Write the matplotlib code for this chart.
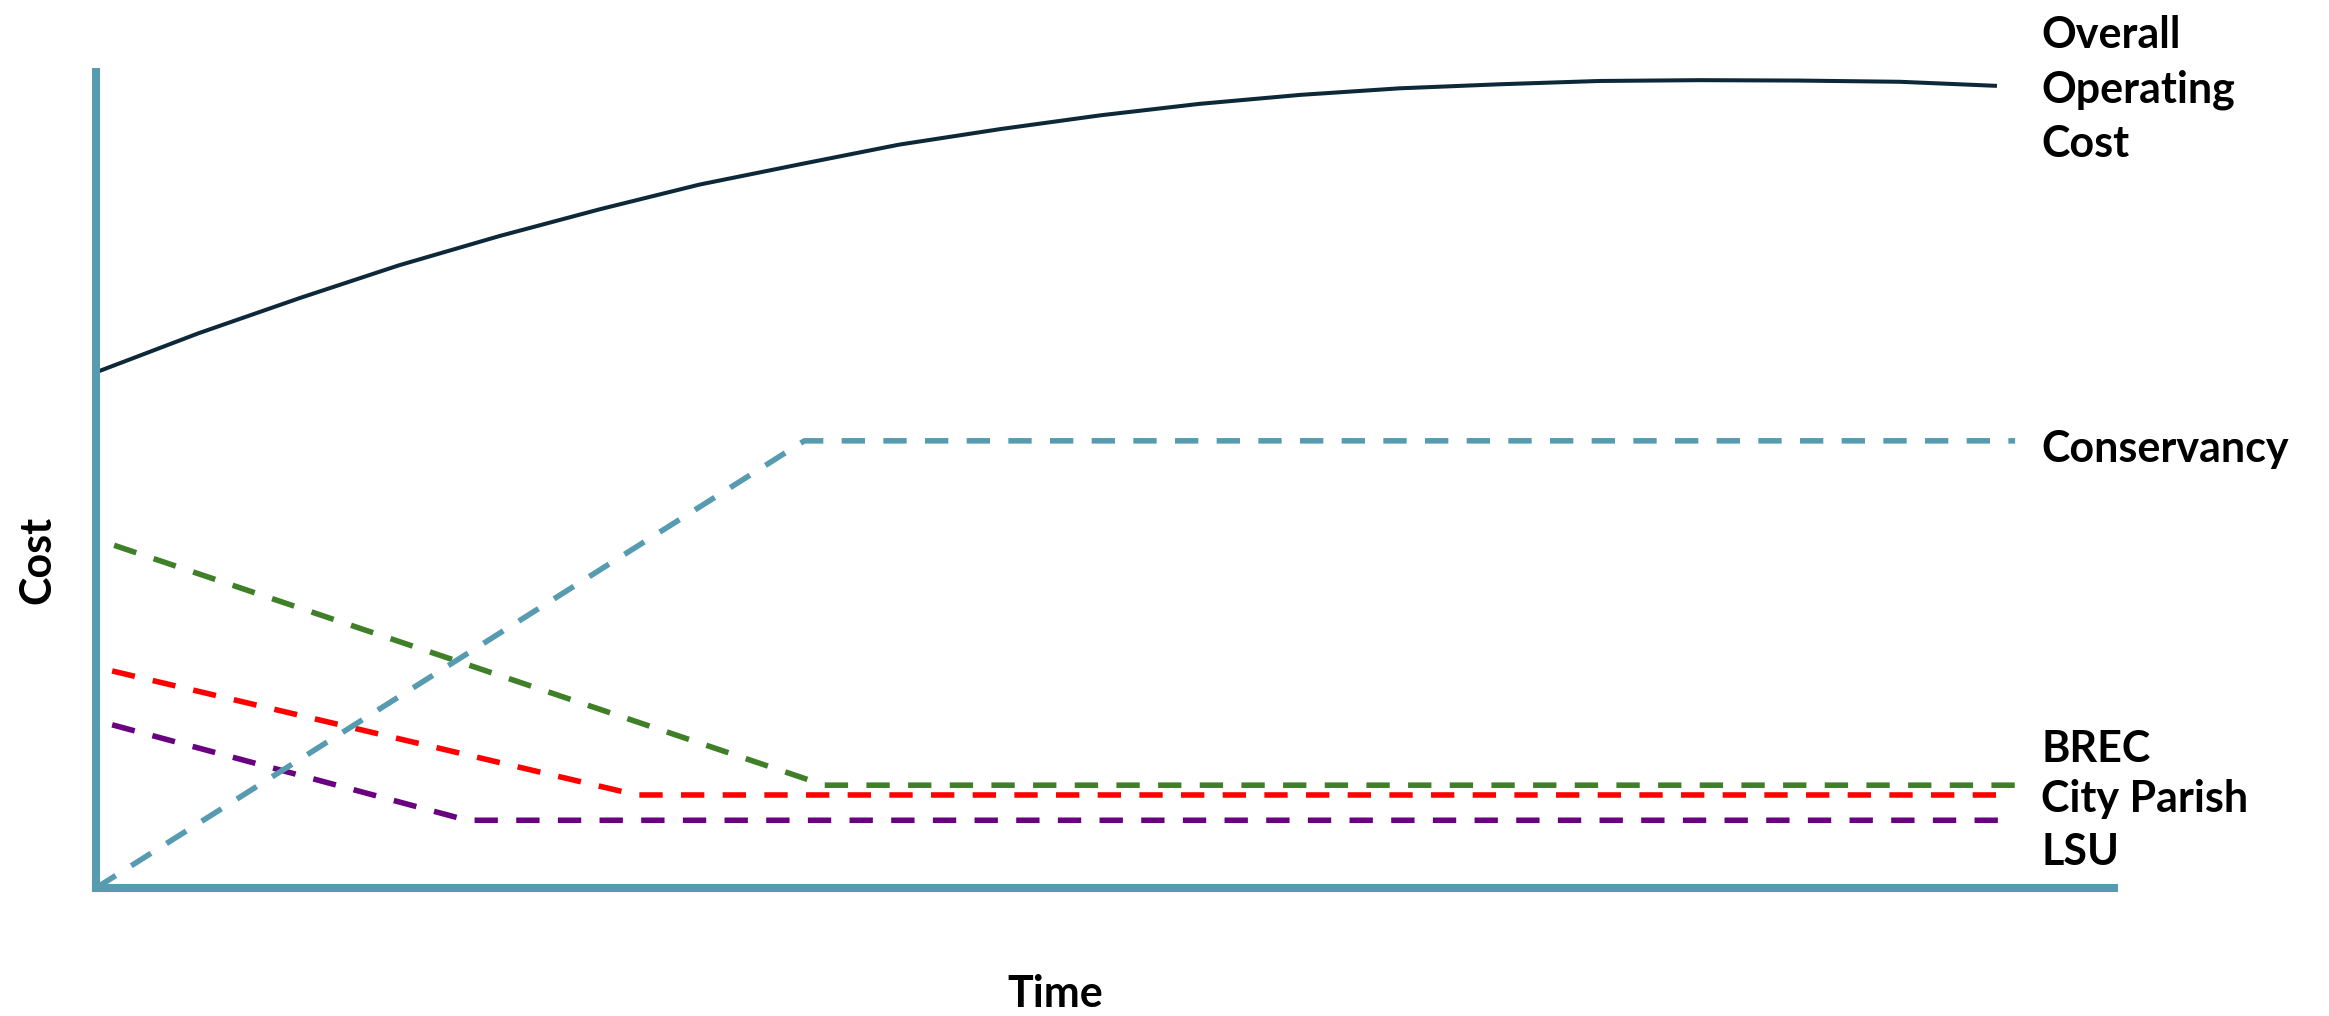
import matplotlib
matplotlib.use("Agg")
import matplotlib.pyplot as plt

# ---- data (Time 0-100, Cost 0-100, arbitrary units) ----
overall_x = [0, 5.1, 10.1, 15.0, 20.0, 25.0, 29.9, 34.9, 39.8, 44.8, 49.8, 54.7, 59.7, 64.6, 69.6, 74.5, 79.5, 84.4, 89.4, 94.2]
overall_y = [63.2, 68.0, 72.3, 76.3, 79.9, 83.2, 86.2, 88.7, 91.1, 93.0, 94.7, 96.1, 97.2, 98.0, 98.5, 98.9, 99.0, 98.95, 98.8, 98.3]

conservancy_x = [0, 35.1, 95.1]
conservancy_y = [0, 54.8, 54.8]

brec_x = [0.9, 36.1, 95.2]
brec_y = [42.0, 12.6, 12.6]

cityparish_x = [0.8, 26.8, 95.0]
cityparish_y = [26.6, 11.4, 11.4]

lsu_x = [0.8, 18.4, 95.1]
lsu_y = [20.0, 8.3, 8.3]

series_labels = ["Overall\nOperating\nCost", "Conservancy", "BREC", "City Parish", "LSU"]
x_label = "Time"
y_label = "Cost"

# ---- figure ----
W, H, DPI = 2329, 1016, 100
fig = plt.figure(figsize=(W / DPI, H / DPI), dpi=DPI)
left_px, right_px, top_px, bottom_px = 96, 2114, 72, 888
ax = fig.add_axes([left_px / W, (H - bottom_px) / H,
                   (right_px - left_px) / W, (bottom_px - top_px) / H])
ax.set_xlim(0, 100)
ax.set_ylim(0, 100)

teal = "#579BB1"
green = "#3F7F27"
red = "#FF0000"
purple = "#680080"
navy = "#0D2838"

for s in ["top", "right"]:
    ax.spines[s].set_visible(False)
for s in ["left", "bottom"]:
    ax.spines[s].set_color(teal)
    ax.spines[s].set_linewidth(5.8)
    ax.spines[s].set_capstyle("projecting")
ax.set_xticks([])
ax.set_yticks([])

dash_lw = 4.0
dash = (4.2, 3.3)

ax.plot(overall_x, overall_y, color=navy, lw=2.9, solid_capstyle="butt",
        solid_joinstyle="round", clip_on=False)
ax.plot(conservancy_x, conservancy_y, color=teal, lw=dash_lw, dashes=dash, clip_on=False, zorder=3)
ax.plot(brec_x, brec_y, color=green, lw=dash_lw, dashes=dash, clip_on=False)
ax.plot(cityparish_x, cityparish_y, color=red, lw=dash_lw, dashes=dash, clip_on=False)
ax.plot(lsu_x, lsu_y, color=purple, lw=dash_lw, dashes=dash, clip_on=False)

font = dict(family=["Lato", "DejaVu Sans"], fontweight="bold", fontsize=31, color="black")

label_x = 96.4
ax.text(label_x, 107.0, series_labels[0], va="top", ha="left", linespacing=1.44, clip_on=False, **font)
ax.text(label_x, 52.2, series_labels[1], va="baseline", ha="left", clip_on=False, **font)
ax.text(label_x, 15.4, series_labels[2], va="baseline", ha="left", clip_on=False, **font)
ax.text(label_x, 9.3, series_labels[3], va="baseline", ha="left", clip_on=False, **font)
ax.text(label_x, 2.8, series_labels[4], va="baseline", ha="left", clip_on=False, **font)

fig.text(1055 / W, (H - 1007) / H, x_label, ha="center", va="baseline", **font)
fig.text(37 / W, 1 - 560 / H, y_label, ha="center", va="center", rotation=90, **font)

fig.savefig("out.png", dpi=DPI, facecolor="white")
